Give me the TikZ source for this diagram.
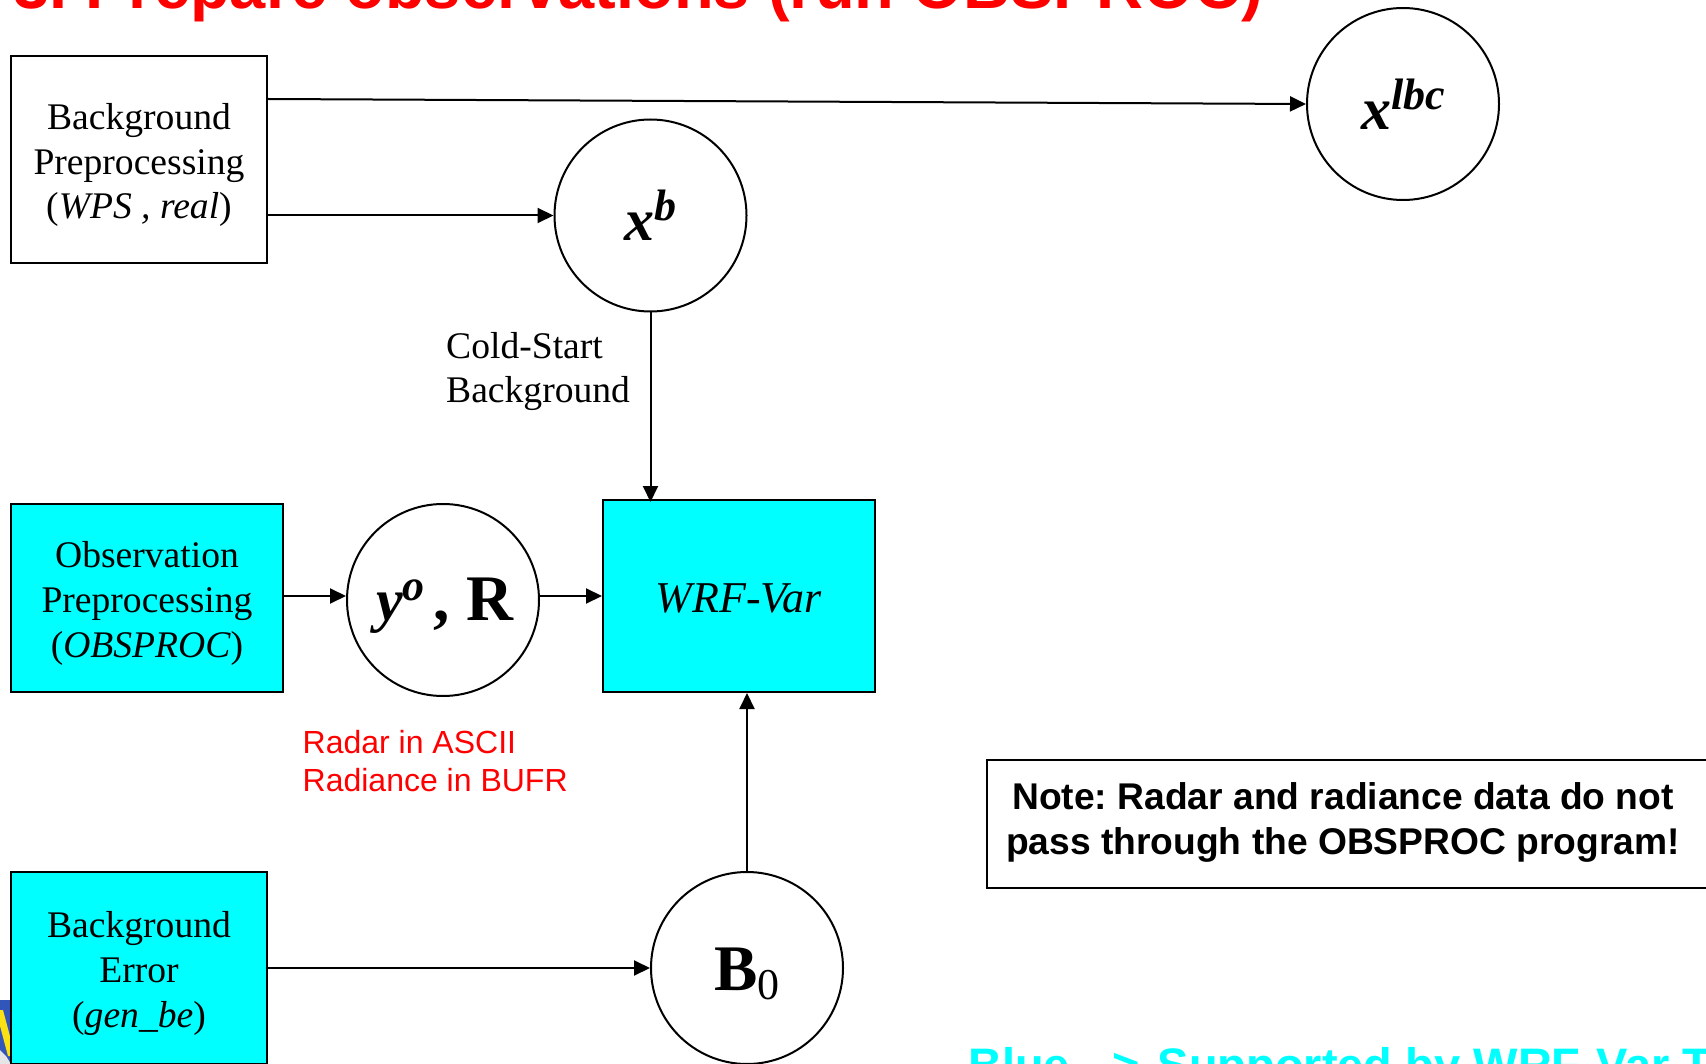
\documentclass[tikz,border=0pt]{standalone}
\usepackage{fontspec}
\setmainfont{Liberation Serif}
\setsansfont{Liberation Sans}
\usetikzlibrary{arrows.meta}
\definecolor{aqua}{RGB}{0,255,255}
\definecolor{logoblue}{RGB}{50,85,185}
\definecolor{logoyel}{RGB}{250,225,20}
\frenchspacing
\tikzset{
  boxw/.style={draw=black,line width=2pt,fill=white,inner sep=0pt},
  boxc/.style={boxw,fill=aqua},
  boxtext/.style={inner sep=0pt,align=center,font=\fontsize{37.6}{44.6}\selectfont,yshift=-5.5pt},
  circ/.style={draw=black,line width=2pt,fill=white,circle,minimum size=192pt,inner sep=0pt},
  conn/.style={draw=black,line width=2pt,-{Triangle[length=16pt,width=15pt]}},
  lbl/.style={inner sep=0pt,align=left,font=\fontsize{37.6}{44.6}\selectfont,anchor=west},
  redlbl/.style={inner sep=0pt,align=left,text=red,font=\sffamily\fontsize{32}{38}\selectfont,anchor=west}
}
\newcommand{\bigv}[1]{{\fontsize{60}{60}\selectfont\bfseries\itshape #1}}
\newcommand{\supv}[1]{\raisebox{20pt}{\fontsize{44}{44}\selectfont\bfseries\itshape #1}}
\newcommand{\bigb}[1]{{\fontsize{65}{65}\selectfont\bfseries #1}}
\begin{document}
\begin{tikzpicture}[x=1pt,y=-1pt]
\useasboundingbox (0,0) rectangle (1706,1064);
\clip (0,0) rectangle (1706,1064);
% logo fragment
\fill[logoblue] (0,1000) rectangle (11,1064);
\fill[logoyel] (0,1010) -- (3,1010) -- (11,1040) -- (11,1056) -- (8,1056) -- (0,1026) -- cycle;
\fill[black!10] (0,1050) -- (6,1056) -- (11,1064) -- (0,1064) -- cycle;
% title
\node[inner sep=0pt,anchor=base west,text=red,font=\sffamily\bfseries\fontsize{65}{65}\selectfont] (title) at (13,8.5) {3. Prepare observations (run OBSPROC)};
% boxes
\node[boxw,minimum width=256pt,minimum height=207pt,label={[boxtext]center:{Background\\Preprocessing\\(\textit{WPS , real})}}] (bp) at (139,159.5) {};
\node[boxc,minimum width=272pt,minimum height=188pt,label={[boxtext]center:{Observation\\Preprocessing\\(\textit{OBSPROC})}}] (obs) at (147,598) {};
\node[boxc,minimum width=272pt,minimum height=192pt,label={[boxtext,yshift=3pt,font=\fontsize{44}{44}\selectfont]center:{\textit{WRF-Var}}}] (wrf) at (739,596) {};
\node[boxc,minimum width=256pt,minimum height=192pt,label={[boxtext]center:{Background\\Error\\(\textit{gen\_be})}}] (be) at (139,968) {};
% circles
\node[circ] (xb) at (650.5,215.5) {\bigv{x}\supv{b}};
\node[circ] (xl) at (1403,104) {\bigv{x}\supv{lbc}};
\node[circ,label={[inner sep=0pt,yshift=-6pt,xshift=2pt]center:{\bigv{y}\supv{o}\hspace{9pt}\bigb{,\hspace{17pt}R}}}] (yo) at (443,600) {};
\node[circ,label={[inner sep=0pt,yshift=-6pt]center:{\bigb{B}{\fontsize{44}{44}\selectfont\raisebox{-9pt}{0}}}}] (b0) at (747,968) {};
% labels
\node[lbl] (cold) at (446,371.5) {Cold-Start\\Background};
\node[redlbl] (radar) at (302.5,761) {Radar in ASCII\\Radiance in BUFR};
\node[draw=black,line width=2pt,minimum width=740pt,minimum height=128pt,inner sep=0pt] (notebox) at (1357,824) {};
\node[inner sep=0pt,align=center,font=\sffamily\bfseries\fontsize{37.2}{44.6}\selectfont] (note) at (1343,822.5) {Note: Radar and radiance data do not\\pass through the OBSPROC program!};
\node[inner sep=0pt,anchor=base west,text=aqua,font=\sffamily\bfseries\fontsize{47}{47}\selectfont] (blue) at (968,1081) {Blue\hspace{16pt}-->\hspace{5pt} Supported by WRF-Var Team};
% connectors
\draw[conn] ([yshift=60.5pt]bp.east) -- (xl.west);
\draw[conn] (bp.east |- xb.west) -- (xb.west);
\draw[conn,shorten >=-3pt] (xb.south) -- (xb.south |- wrf.north);
\draw[conn] ([yshift=2pt]obs.east) -- ([yshift=4pt]yo.west);
\draw[conn] ([yshift=4pt]yo.east) -- (wrf.west);
\draw[conn] (b0.north) -- (b0.north |- wrf.south);
\draw[conn] (be.east |- b0.west) -- (b0.west);
\end{tikzpicture}
\end{document}
